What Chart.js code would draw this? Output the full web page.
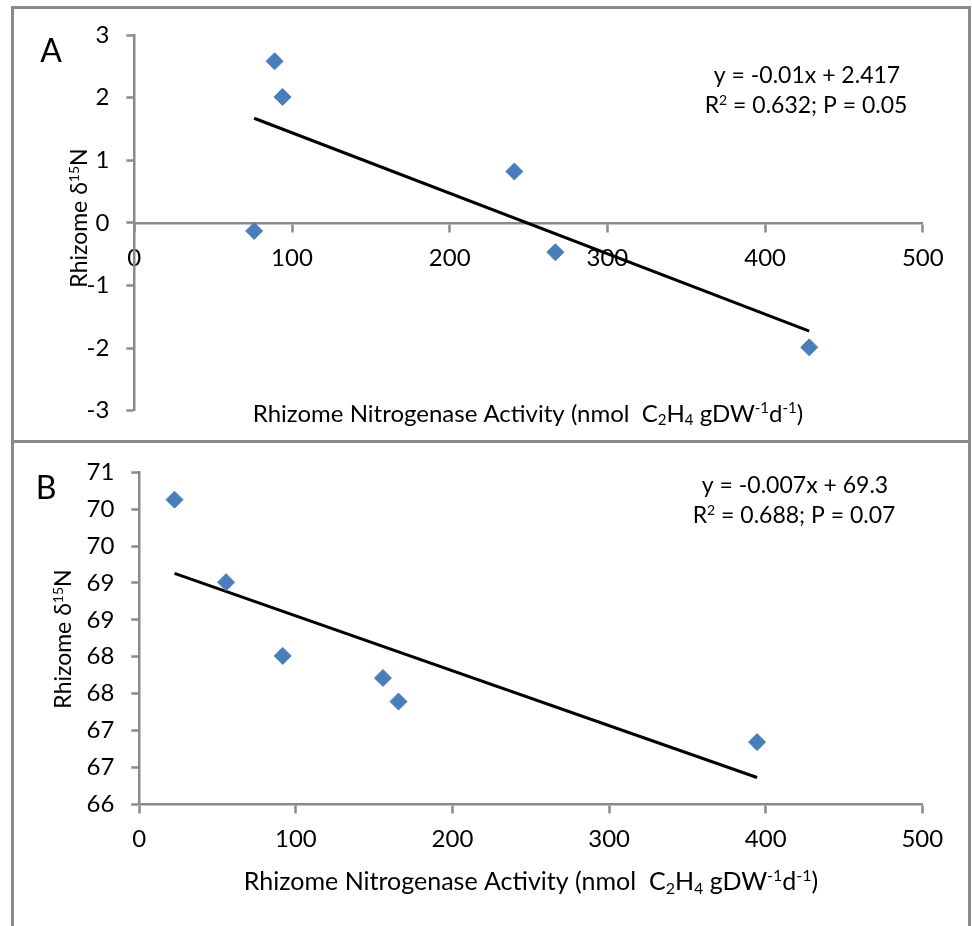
<!DOCTYPE html>
<html>
<head>
<meta charset="utf-8">
<script src="https://cdn.jsdelivr.net/npm/chart.js@4.4.0/dist/chart.umd.min.js"></script>
<style>
  html, body { margin: 0; padding: 0; background: #fff; }
  body { width: 972px; height: 926px; position: relative; overflow: hidden; }
  .frame { position: absolute; border: 3px solid #8a8a8a; box-sizing: border-box; }
  canvas { position: absolute; left: 0; }
</style>
</head>
<body>
<div class="frame" style="left:11px; top:6px; width:960px; height:437px;"></div>
<div class="frame" style="left:11px; top:440px; width:960px; height:520px;"></div>
<canvas id="chartA" width="972" height="442" style="top:0px;"></canvas>
<canvas id="chartB" width="972" height="485" style="top:441px;"></canvas>
<script>
// panel A: rhizome d15N vs nitrogenase activity
const xTicks = [0, 100, 200, 300, 400, 500];
const activityA = [89, 94, 76, 241, 267, 428];
const delta15NA = [2.58, 2.01, -0.13, 0.82, -0.47, -1.99];
const trendXA = [76, 428];
const trendYA = [1.67, -1.73];
const yTicksA = [-3, -2, -1, 0, 1, 2, 3];

// panel B
const activityB = [22.5, 55.4, 91.6, 155.6, 165.5, 394.5];
const delta15NB = [70.13, 69.01, 68.01, 67.71, 67.39, 66.84];
const trendXB = [22.5, 394.5];
const trendYB = [69.13, 66.36];
const yTicksB = [66, 66.5, 67, 67.5, 68, 68.5, 69, 69.5, 70, 70.5];

const FONT = 'Lato, "Open Sans", sans-serif';
const AXIS_GREY = '#8a8a8a';
const MARKER = '#4A7EBB';

// draws a line of text made of runs, some of them super/subscript
function drawRich(ctx, item) {
  const size = item.size;
  const small = Math.round(size * 0.62);
  ctx.save();
  ctx.translate(item.x, item.y);
  if (item.rotate) ctx.rotate(item.rotate);
  ctx.fillStyle = '#000';
  ctx.textBaseline = 'alphabetic';
  ctx.textAlign = 'left';
  const widths = item.runs.map(([t, m]) => {
    ctx.font = (m === 'n' ? size : small) + 'px ' + FONT;
    return ctx.measureText(t).width;
  });
  const total = widths.reduce((a, b) => a + b, 0);
  let x = -total / 2;
  const base = size * 0.36;
  item.runs.forEach(([t, m], i) => {
    ctx.font = (m === 'n' ? size : small) + 'px ' + FONT;
    let dy = base;
    if (m === 'sup') dy = base - size * 0.38;
    if (m === 'sub') dy = base + size * 0.16;
    ctx.fillText(t, x, dy);
    x += widths[i];
  });
  ctx.restore();
}

const xTitleRuns = [
  ['Rhizome Nitrogenase Activity (nmol  C', 'n'], ['2', 'sub'], ['H', 'n'], ['4', 'sub'],
  [' gDW', 'n'], ['-1', 'sup'], ['d', 'n'], ['-1', 'sup'], [')', 'n']
];
const yTitleRuns = [['Rhizome \u03b4', 'n'], ['15', 'sup'], ['N', 'n']];

const textPlugin = {
  id: 'panelText',
  afterDraw(chart, args, opts) {
    opts.items.forEach(it => drawRich(chart.ctx, it));
  }
};

function axisStyle() {
  return {
    grid: { drawOnChartArea: false, drawTicks: true, tickLength: 8, tickWidth: 2.5, tickColor: AXIS_GREY },
    border: { color: AXIS_GREY, width: 2.5 },
  };
}

function makeChart(id, xs, ys, tx, ty, yTicks, yMin, yMax, pad, yWidth, fmt, texts) {
  const scatter = xs.map((x, i) => ({ x: x, y: ys[i] }));
  const trend = tx.map((x, i) => ({ x: x, y: ty[i] }));
  return new Chart(document.getElementById(id), {
    type: 'scatter',
    data: {
      datasets: [
        {
          data: scatter,
          pointStyle: 'rectRot',
          pointRadius: 8.5,
          pointHoverRadius: 8.5,
          backgroundColor: MARKER,
          borderColor: MARKER,
          borderWidth: 1
        },
        {
          type: 'line',
          data: trend,
          borderColor: '#000',
          borderWidth: 3,
          pointRadius: 0,
          fill: false
        }
      ]
    },
    options: {
      responsive: false,
      animation: false,
      layout: { padding: pad },
      plugins: {
        legend: { display: false },
        tooltip: { enabled: false },
        panelText: { items: texts }
      },
      scales: {
        x: Object.assign(axisStyle(), {
          type: 'linear',
          min: 0,
          max: 500,
          // x axis crosses the y axis at its zero (A) or minimum (B)
          position: { y: Math.max(0, yMin) },
          afterBuildTicks: s => { s.ticks = xTicks.map(v => ({ value: v })); },
          afterFit: s => { s.height = 0; },
          ticks: { font: { family: FONT, size: 24 }, color: '#000', padding: 13, maxRotation: 0 }
        }),
        y: Object.assign(axisStyle(), {
          type: 'linear',
          min: yMin,
          max: yMax,
          position: 'left',
          afterBuildTicks: s => { s.ticks = yTicks.map(v => ({ value: v })); },
          afterFit: s => { s.width = yWidth; },
          ticks: { font: { family: FONT, size: 24 }, color: '#000', padding: 17, callback: fmt }
        })
      }
    },
    plugins: [textPlugin]
  });
}

makeChart('chartA', activityA, delta15NA, trendXA, trendYA, yTicksA, -3, 3,
  { left: 0, top: 35, right: 49.2, bottom: 27.7 }, 134.3, v => String(v), [
    { x: 51, y: 50, size: 32, runs: [['A', 'n']] },
    { x: 807, y: 75, size: 23, runs: [['y = -0.01x + 2.417', 'n']] },
    { x: 806, y: 105, size: 23, runs: [['R', 'n'], ['2', 'sup'], [' = 0.632; P = 0.05', 'n']] },
    { x: 528, y: 413, size: 24, runs: xTitleRuns },
    { x: 79, y: 218, size: 23, rotate: -Math.PI / 2, runs: yTitleRuns }
  ]);

makeChart('chartB', activityB, delta15NB, trendXB, trendYB, yTicksB, 66, 70.5,
  { left: 0, top: 29.7, right: 49.7, bottom: 122 }, 139.3, v => Number(v).toFixed(0), [
    { x: 46, y: 46, size: 32, runs: [['B', 'n']] },
    { x: 795, y: 44, size: 23, runs: [['y = -0.007x + 69.3', 'n']] },
    { x: 794, y: 74, size: 23, runs: [['R', 'n'], ['2', 'sup'], [' = 0.688; P = 0.07', 'n']] },
    { x: 531, y: 440, size: 25, runs: xTitleRuns },
    { x: 63, y: 198, size: 23, rotate: -Math.PI / 2, runs: yTitleRuns }
  ]);
</script>
</body>
</html>
